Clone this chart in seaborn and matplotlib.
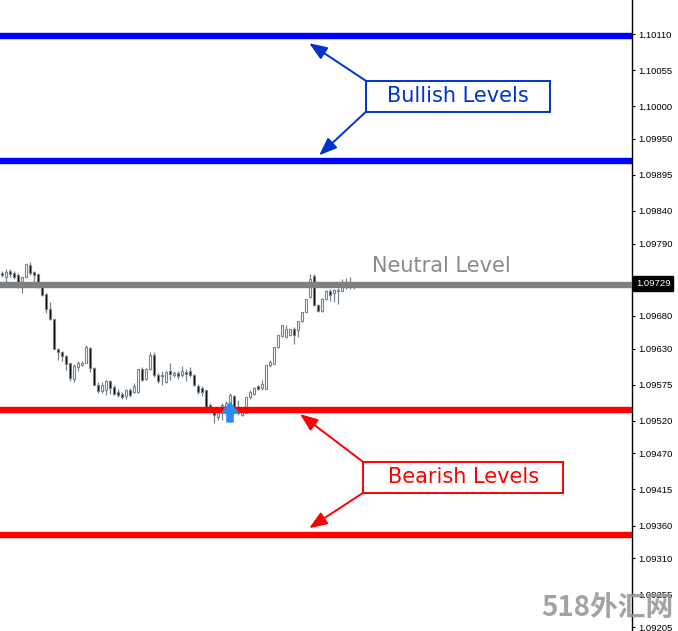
import numpy as np
import pandas as pd
import matplotlib
matplotlib.use("Agg")
import matplotlib.pyplot as plt
import matplotlib.transforms as mtransforms
from matplotlib.patches import Rectangle
import seaborn as sns

# candle data (EURUSD-like, oldest first)
opens = [1.09745, 1.09739, 1.09748, 1.09745, 1.09742, 1.09724, 1.09739, 1.09757, 1.09747, 1.09744,
         1.09724, 1.09713, 1.09690, 1.09675, 1.09629, 1.09625, 1.09619, 1.09608, 1.09584, 1.09602,
         1.09605, 1.09608, 1.09631, 1.09600, 1.09574, 1.09565, 1.09567, 1.09580, 1.09571, 1.09564,
         1.09561, 1.09558, 1.09567, 1.09564, 1.09564, 1.09599, 1.09584, 1.09599, 1.09620, 1.09590,
         1.09590, 1.09579, 1.09596, 1.09590, 1.09593, 1.09590, 1.09594, 1.09596, 1.09590, 1.09573,
         1.09570, 1.09567, 1.09544, 1.09538, 1.09526, 1.09532, 1.09536, 1.09542, 1.09558, 1.09538,
         1.09529, 1.09532, 1.09556, 1.09561, 1.09573, 1.09570, 1.09568, 1.09605, 1.09606, 1.09632,
         1.09649, 1.09648, 1.09651, 1.09660, 1.09658, 1.09672, 1.09686, 1.09709, 1.09741, 1.09696,
         1.09687, 1.09706, 1.09718, 1.09715, 1.09718, 1.09718, 1.09724, 1.09730, 1.09726]
highs = [1.09748, 1.09751, 1.09751, 1.09748, 1.09745, 1.09739, 1.09759, 1.09762, 1.09748, 1.09744,
         1.09730, 1.09715, 1.09701, 1.09675, 1.09631, 1.09626, 1.09620, 1.09608, 1.09606, 1.09611,
         1.09611, 1.09635, 1.09632, 1.09602, 1.09579, 1.09579, 1.09582, 1.09582, 1.09574, 1.09568,
         1.09564, 1.09568, 1.09570, 1.09577, 1.09599, 1.09602, 1.09600, 1.09625, 1.09625, 1.09593,
         1.09596, 1.09596, 1.09608, 1.09596, 1.09596, 1.09603, 1.09599, 1.09602, 1.09591, 1.09576,
         1.09573, 1.09567, 1.09547, 1.09538, 1.09539, 1.09547, 1.09550, 1.09562, 1.09559, 1.09551,
         1.09541, 1.09556, 1.09567, 1.09571, 1.09574, 1.09582, 1.09605, 1.09613, 1.09632, 1.09651,
         1.09666, 1.09666, 1.09660, 1.09663, 1.09672, 1.09686, 1.09706, 1.09744, 1.09744, 1.09698,
         1.09707, 1.09719, 1.09721, 1.09721, 1.09722, 1.09736, 1.09738, 1.09739, 1.09732]
lows = [1.09739, 1.09732, 1.09739, 1.09736, 1.09722, 1.09715, 1.09739, 1.09742, 1.09732, 1.09722,
        1.09710, 1.09684, 1.09674, 1.09629, 1.09613, 1.09611, 1.09597, 1.09580, 1.09579, 1.09596,
        1.09603, 1.09608, 1.09594, 1.09574, 1.09562, 1.09562, 1.09559, 1.09561, 1.09559, 1.09556,
        1.09553, 1.09553, 1.09556, 1.09562, 1.09562, 1.09580, 1.09582, 1.09597, 1.09587, 1.09577,
        1.09574, 1.09577, 1.09582, 1.09587, 1.09584, 1.09587, 1.09580, 1.09587, 1.09573, 1.09561,
        1.09558, 1.09541, 1.09535, 1.09516, 1.09521, 1.09521, 1.09529, 1.09533, 1.09532, 1.09529,
        1.09527, 1.09532, 1.09553, 1.09559, 1.09567, 1.09567, 1.09568, 1.09602, 1.09606, 1.09631,
        1.09648, 1.09646, 1.09649, 1.09637, 1.09648, 1.09671, 1.09686, 1.09707, 1.09695, 1.09686,
        1.09686, 1.09704, 1.09703, 1.09701, 1.09698, 1.09718, 1.09721, 1.09721, 1.09721]
closes = [1.09742, 1.09747, 1.09744, 1.09739, 1.09724, 1.09739, 1.09759, 1.09745, 1.09742, 1.09724,
          1.09712, 1.09690, 1.09675, 1.09629, 1.09625, 1.09619, 1.09606, 1.09585, 1.09603, 1.09608,
          1.09608, 1.09632, 1.09600, 1.09574, 1.09565, 1.09574, 1.09580, 1.09570, 1.09561, 1.09559,
          1.09556, 1.09567, 1.09559, 1.09573, 1.09599, 1.09582, 1.09599, 1.09620, 1.09590, 1.09580,
          1.09588, 1.09594, 1.09591, 1.09593, 1.09588, 1.09596, 1.09591, 1.09590, 1.09574, 1.09564,
          1.09564, 1.09541, 1.09539, 1.09529, 1.09536, 1.09544, 1.09547, 1.09559, 1.09532, 1.09532,
          1.09538, 1.09556, 1.09564, 1.09570, 1.09568, 1.09576, 1.09605, 1.09609, 1.09632, 1.09651,
          1.09666, 1.09660, 1.09660, 1.09651, 1.09672, 1.09686, 1.09706, 1.09736, 1.09696, 1.09687,
          1.09706, 1.09718, 1.09712, 1.09719, 1.09719, 1.09726, 1.09730, 1.09726, 1.09729]

bullish_levels = [1.10107, 1.09916]
neutral_level = 1.09727
bearish_levels = [1.09536, 1.09345]
current_price = 1.09729

# buy signal arrow (candle index, tip price, tail price)
signal_idx = 57
signal_tip = 1.09549
signal_tail = 1.09517

ytick_vals = [1.10110, 1.10055, 1.10000, 1.09950, 1.09895, 1.09840, 1.09790, 1.09735, 1.09680,
              1.09630, 1.09575, 1.09520, 1.09470, 1.09415, 1.09360, 1.09310, 1.09255, 1.09205]
ytick_labels = ["%.5f" % v for v in ytick_vals]

df = pd.DataFrame({"open": opens, "high": highs, "low": lows, "close": closes})
df["idx"] = np.arange(len(df))
df["bull"] = df["close"] >= df["open"]

sns.set_theme(style="white")
plt.rcParams["font.family"] = ["DejaVu Sans"]

fig = plt.figure(figsize=(6.78, 6.31), dpi=100)
ax = fig.add_axes([0, 0, 632 / 678, 1])

edge = "#77838f"
ax.vlines(df["idx"], df["low"], df["high"], color=edge, lw=0.9, zorder=1)
body_h = (df["close"] - df["open"]).abs().clip(lower=0.000012)
body_b = df[["open", "close"]].min(axis=1)
ax.bar(df["idx"], body_h, bottom=body_b, width=0.7,
       color=np.where(df["bull"], "white", "black"), edgecolor=edge, linewidth=0.8, zorder=2)

for lv in bullish_levels:
    ax.axhline(lv, color="#0000ff", lw=4.6, zorder=3)
ax.axhline(neutral_level, color="#808080", lw=4.6, zorder=3)
for lv in bearish_levels:
    ax.axhline(lv, color="#ff0000", lw=4.6, zorder=3)

# buy arrow
ax.annotate("", xy=(signal_idx, signal_tip), xytext=(signal_idx, signal_tail),
            arrowprops=dict(arrowstyle="simple,head_width=1.3,head_length=0.8,tail_width=0.5",
                            mutation_scale=11, color="#2d8cf0", lw=0, shrinkA=0, shrinkB=0), zorder=4)

# labels
blue = "#0033cc"
ax.add_patch(Rectangle((90.9, 1.09991), 137.0 - 90.9, 1.10039 - 1.09991,
                       fill=False, edgecolor=blue, lw=1.4, zorder=5))
ax.text((90.9 + 137.0) / 2, 1.10015, "Bullish Levels", color=blue, fontsize=15,
        ha="center", va="center", zorder=5)
for head, tail in [((76.8, 1.10096), (90.9, 1.10039)), ((79.3, 1.09925), (90.9, 1.09991))]:
    ax.annotate("", xy=head, xytext=tail,
                arrowprops=dict(arrowstyle="-|>,head_width=0.35,head_length=0.9",
                                color=blue, lw=1.4, shrinkA=0, shrinkB=0), zorder=5)

red = "#ff0000"
ax.add_patch(Rectangle((90.3, 1.09410), 140.3 - 90.3, 1.09457 - 1.09410,
                       fill=False, edgecolor=red, lw=1.4, zorder=5))
ax.text((90.3 + 140.3) / 2, 1.09434, "Bearish Levels", color=red, fontsize=15,
        ha="center", va="center", zorder=5)
for head, tail in [((74.5, 1.09530), (90.3, 1.09457)), ((76.8, 1.09356), (90.3, 1.09410))]:
    ax.annotate("", xy=head, xytext=tail,
                arrowprops=dict(arrowstyle="-|>,head_width=0.35,head_length=0.9",
                                color=red, lw=1.4, shrinkA=0, shrinkB=0), zorder=5)

ax.text(92.5, 1.09756, "Neutral Level", color="#8a8a8a", fontsize=15,
        ha="left", va="center", zorder=5)

ax.set_xlim(-0.5, 157.5)
ax.set_ylim(1.09199, 1.10162)
ax.set_xticks([])
ax.yaxis.tick_right()
ax.set_yticks(ytick_vals)
ax.set_yticklabels(ytick_labels, fontsize=6.8, family="Liberation Sans", color="black")
ax.tick_params(axis="y", direction="out", length=2.5, width=0.8, pad=2, colors="black")
for s in ["top", "left", "bottom"]:
    ax.spines[s].set_visible(False)
ax.spines["right"].set_color("black")
ax.spines["right"].set_linewidth(1.0)
ax.set_facecolor("white")

trans = mtransforms.blended_transform_factory(ax.transAxes, ax.transData)
ax.text(1.006, current_price, "%.5f" % current_price, transform=trans, color="white",
        fontsize=6.8, family="Liberation Sans", ha="left", va="center", clip_on=False, zorder=10,
        bbox=dict(boxstyle="square,pad=0.3", facecolor="black", edgecolor="black"))

fig.text(0.994, 0.036, "518外汇网", color="#999999", fontsize=20, fontweight="bold",
         family=["Noto Sans CJK SC", "DejaVu Sans"], ha="right", va="center", alpha=0.9, zorder=20)

fig.savefig("out.png", dpi=100)
plt.close(fig)
